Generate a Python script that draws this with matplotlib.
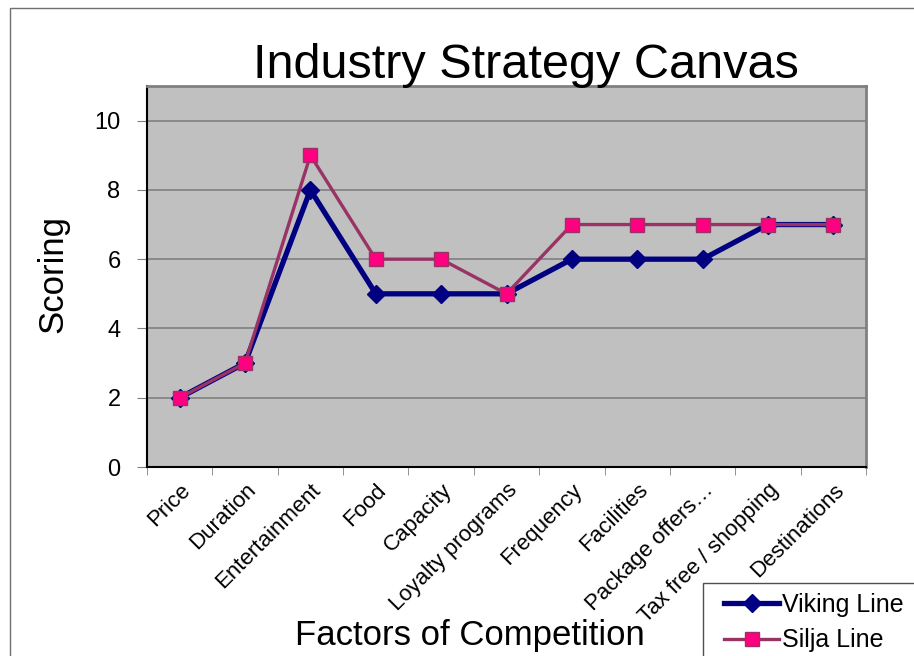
import matplotlib.pyplot as plt
import matplotlib.transforms as mtransforms
from matplotlib.patches import Rectangle

plt.rcParams['font.family'] = ['Liberation Sans', 'DejaVu Sans']

factors = ['Price', 'Duration', 'Entertainment', 'Food', 'Capacity',
           'Loyalty programs', 'Frequency', 'Facilities', 'Package offers\u2026',
           'Tax free / shopping', 'Destinations']
viking = [2, 3, 8, 5, 5, 5, 6, 6, 6, 7, 7]
silja = [2, 3, 9, 6, 6, 5, 7, 7, 7, 7, 7]

fig = plt.figure(figsize=(9.14, 6.56), dpi=100)
# outer chart border (runs off the right and bottom edges)
fig.patches.append(Rectangle((10 / 914, -0.1), 1.0, 1 - 8 / 656 + 0.1,
                             transform=fig.transFigure, fill=False,
                             edgecolor='#707070', linewidth=1))

ax = fig.add_axes([147 / 914, 1 - 467 / 656, 719 / 914, 381 / 656])
ax.set_facecolor('#C0C0C0')
x = list(range(len(factors)))
ax.plot(x, viking, color='#000080', lw=3.8, marker='D', ms=9,
        mfc='#000080', mec='#000080', label='Viking Line', zorder=3)
ax.plot(x, silja, color='#993366', lw=2.4, marker='s', ms=10,
        mfc='#FF0080', mec='#993366', mew=1, label='Silja Line', zorder=4)

ax.set_xlim(-0.5, len(factors) - 0.5)
ax.set_ylim(0, 11)
ax.set_yticks([0, 2, 4, 6, 8, 10])
ax.set_xticks(x)
ax.set_xticklabels(factors, rotation=45, ha='right', rotation_mode='anchor',
                   fontsize=16)
off = mtransforms.ScaledTranslation(-5 / 100, -2 / 100, fig.dpi_scale_trans)
for lbl in ax.get_xticklabels():
    lbl.set_transform(lbl.get_transform() + off)
ax.tick_params(axis='x', length=0, pad=9)
ax.tick_params(axis='y', labelsize=17, length=7, color='#808080', pad=12)
ax.set_xticks([i - 0.5 for i in x] + [len(factors) - 0.5], minor=True)
ax.tick_params(axis='x', which='minor', length=6, color='#808080')
ax.grid(axis='y', color='#808080', lw=1.2)
ax.set_axisbelow(True)
for s in ['top', 'right']:
    ax.spines[s].set_color('#808080')
    ax.spines[s].set_linewidth(2)
for s in ['left', 'bottom']:
    ax.spines[s].set_color('black')
    ax.spines[s].set_linewidth(1.5)

fig.text(526 / 914, 1 - 78 / 656, 'Industry Strategy Canvas', fontsize=35,
         ha='center', va='baseline')
fig.text(53 / 914, 1 - 274 / 656, 'Scoring', fontsize=25, rotation=90,
         ha='center', va='center')
fig.text(470 / 914, 1 - 636 / 656, 'Factors of Competition', fontsize=25,
         ha='center', va='center')

# legend box, clipped by the figure edge like the original
fig.patches.append(Rectangle((703 / 914, -0.1), 0.5, 0.1 + 1 - 583 / 656,
                             transform=fig.transFigure, facecolor='white',
                             edgecolor='#505050', linewidth=1))
leg = fig.legend(loc='upper left', bbox_to_anchor=(714 / 914, 1 - 583 / 656),
                 fontsize=18, frameon=False, handlelength=2.2,
                 borderaxespad=0, handletextpad=0.1, borderpad=0.4,
                 labelspacing=0.45)

fig.savefig('out.png', dpi=100)
